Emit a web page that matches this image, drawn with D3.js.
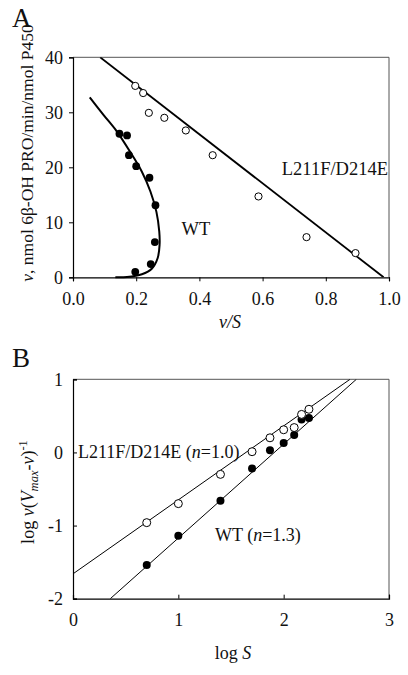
<!DOCTYPE html>
<html><head><meta charset="utf-8">
<script src="https://cdn.jsdelivr.net/npm/d3@7"></script>
<style>
html,body{margin:0;padding:0;background:#fff;}
text{font-family:"Liberation Serif","Times New Roman",serif;fill:#111;}
</style></head>
<body>
<script>
// ---- Panel A data (Eadie-Hofstee) ----
const mutA_x = [0.197,0.222,0.240,0.289,0.357,0.442,0.587,0.739,0.894];
const mutA_y = [34.8,33.5,29.9,29.0,26.7,22.2,14.7,7.3,4.4];
const wtA_x  = [0.147,0.171,0.177,0.200,0.242,0.261,0.259,0.246,0.197];
const wtA_y  = [26.1,25.8,22.2,20.2,18.1,13.1,6.4,2.4,1.0];
const mutA_fit_x = [0.086,0.983];
const mutA_fit_y = [40,0];
const wtA_fit_x = [0.053,0.097,0.139,0.181,0.218,0.245,0.264,0.273,0.274,0.268,0.250,0.218,0.171,0.134];
const wtA_fit_y = [32.7,29.5,26.5,22.8,19.2,15.6,11.9,8.3,5.9,3.5,1.6,0.55,0.05,0];
const ticksA_x = [0,0.2,0.4,0.6,0.8,1.0];
const ticksA_y = [0,10,20,30,40];

// ---- Panel B data (Hill plot) ----
const logS = [0.70,1.00,1.40,1.70,1.87,2.00,2.10,2.17,2.24];
const mutB_y = [-0.96,-0.70,-0.30,0.01,0.20,0.31,0.34,0.52,0.59];
const wtB_y  = [-1.54,-1.14,-0.66,-0.22,0.03,0.13,0.24,0.45,0.47];
const mutB_fit_x = [0,2.63];
const mutB_fit_y = [-1.66,1];
const wtB_fit_x = [0.354,2.69];
const wtB_fit_y = [-2,1];
const ticksB_x = [0,1,2,3];
const ticksB_y = [-2,-1,0,1];

const W=408,H=675;
const svg=d3.select("body").append("svg").attr("width",W).attr("height",H);
const FS=18, LS=17.5, AS=18.5;

// ===== Panel A =====
const xA=d3.scaleLinear().domain([0,1]).range([73,389]);
const yA=d3.scaleLinear().domain([0,40]).range([277.3,57.3]);
const gA=svg.append("g");
gA.append("defs").append("clipPath").attr("id","clipA").append("rect")
  .attr("x",xA(0)).attr("y",yA(40)).attr("width",xA(1)-xA(0)).attr("height",yA(0)-yA(40));
gA.append("path").attr("d",`M${xA(0)},${yA(40)}H${xA(1)}V${yA(0)}`).attr("fill","none").attr("stroke","#555").attr("stroke-width",1);
const axAx=gA.append("g").attr("transform",`translate(0,${yA(0)})`)
  .call(d3.axisBottom(xA).tickValues(ticksA_x).tickFormat(d3.format(".1f")).tickSize(4).tickPadding(11));
const axAy=gA.append("g").attr("transform",`translate(${xA(0)},0)`)
  .call(d3.axisLeft(yA).tickValues(ticksA_y).tickSize(4).tickPadding(6));
[axAx,axAy].forEach(a=>{a.select(".domain").attr("stroke","#000").attr("stroke-width",1.2);
  a.selectAll(".tick line").attr("stroke","#000");
  a.selectAll("text").attr("font-size",FS).attr("font-family","Liberation Serif").attr("fill","#111");});
axAy.selectAll(".tick text").attr("dy","0.34em");

const lineA=d3.line().x(d=>xA(d[0])).y(d=>yA(d[1]));
gA.append("path").datum(mutA_fit_x.map((x,i)=>[x,mutA_fit_y[i]]))
  .attr("d",lineA).attr("fill","none").attr("stroke","#000").attr("stroke-width",1.8).attr("clip-path","url(#clipA)");
gA.append("path").datum(wtA_fit_x.map((x,i)=>[x,wtA_fit_y[i]]))
  .attr("d",lineA.curve(d3.curveCatmullRom)).attr("fill","none").attr("stroke","#000").attr("stroke-width",2);
gA.selectAll(".mA").data(mutA_x.map((x,i)=>[x,mutA_y[i]])).enter().append("circle")
  .attr("cx",d=>xA(d[0])).attr("cy",d=>yA(d[1])).attr("r",3.6).attr("fill","#fff").attr("stroke","#000").attr("stroke-width",1);
gA.selectAll(".wA").data(wtA_x.map((x,i)=>[x,wtA_y[i]])).enter().append("circle")
  .attr("cx",d=>xA(d[0])).attr("cy",d=>yA(d[1])).attr("r",3.9).attr("fill","#000");

gA.append("text").attr("x",12).attr("y",27).attr("font-size",27).text("A");
gA.append("text").attr("x",196).attr("y",235).attr("text-anchor","middle").attr("font-size",AS).text("WT");
gA.append("text").attr("x",388).attr("y",175).attr("text-anchor","end").attr("font-size",AS).text("L211F/D214E");
gA.append("text").attr("x",230).attr("y",328).attr("text-anchor","middle").attr("font-size",LS+0.5).attr("font-style","italic").text("v/S");
const ylA=gA.append("text").attr("transform",`translate(33,153) rotate(-90)`).attr("text-anchor","middle").attr("font-size",LS);
ylA.append("tspan").attr("font-style","italic").text("v");
ylA.append("tspan").text(", nmol 6β-OH PRO/min/nmol P450");

// ===== Panel B =====
const xB=d3.scaleLinear().domain([0,3]).range([73,389]);
const yB=d3.scaleLinear().domain([-2,1]).range([598.7,379.3]);
const gB=svg.append("g");
gB.append("defs").append("clipPath").attr("id","clipB").append("rect")
  .attr("x",xB(0)).attr("y",yB(1)).attr("width",xB(3)-xB(0)).attr("height",yB(-2)-yB(1));
gB.append("path").attr("d",`M${xB(0)},${yB(1)}H${xB(3)}V${yB(-2)}`).attr("fill","none").attr("stroke","#555").attr("stroke-width",1);
const axBx=gB.append("g").attr("transform",`translate(0,${yB(-2)})`)
  .call(d3.axisBottom(xB).tickValues(ticksB_x).tickFormat(d3.format("d")).tickSize(-4).tickPadding(15));
const axBy=gB.append("g").attr("transform",`translate(${xB(0)},0)`)
  .call(d3.axisLeft(yB).tickValues(ticksB_y).tickFormat(d=>d<0?"-"+Math.abs(d):d).tickSize(-4).tickPadding(10));
[axBx,axBy].forEach(a=>{a.select(".domain").attr("stroke","#000").attr("stroke-width",1.2);
  a.selectAll(".tick line").attr("stroke","#000");
  a.selectAll("text").attr("font-size",FS).attr("font-family","Liberation Serif").attr("fill","#111");});
axBy.selectAll(".tick text").attr("dy","0.34em");

const lineB=d3.line().x(d=>xB(d[0])).y(d=>yB(d[1]));
gB.append("path").datum(mutB_fit_x.map((x,i)=>[x,mutB_fit_y[i]]))
  .attr("d",lineB).attr("fill","none").attr("stroke","#000").attr("stroke-width",1).attr("clip-path","url(#clipB)");
gB.append("path").datum(wtB_fit_x.map((x,i)=>[x,wtB_fit_y[i]]))
  .attr("d",lineB).attr("fill","none").attr("stroke","#000").attr("stroke-width",1).attr("clip-path","url(#clipB)");
gB.selectAll(".wB").data(logS.map((x,i)=>[x,wtB_y[i]])).enter().append("circle")
  .attr("cx",d=>xB(d[0])).attr("cy",d=>yB(d[1])).attr("r",4).attr("fill","#000");
gB.selectAll(".mB").data(logS.map((x,i)=>[x,mutB_y[i]])).enter().append("circle")
  .attr("cx",d=>xB(d[0])).attr("cy",d=>yB(d[1])).attr("r",4).attr("fill","#fff").attr("stroke","#000").attr("stroke-width",1);

gB.append("text").attr("x",12).attr("y",367).attr("font-size",27).text("B");
const t1=gB.append("text").attr("x",78).attr("y",458).attr("font-size",18);
t1.append("tspan").text("L211F/D214E (");
t1.append("tspan").attr("font-style","italic").text("n");
t1.append("tspan").text("=1.0)");
const t2=gB.append("text").attr("x",215).attr("y",541).attr("font-size",18);
t2.append("tspan").text("WT (");
t2.append("tspan").attr("font-style","italic").text("n");
t2.append("tspan").text("=1.3)");
const xlB=gB.append("text").attr("x",233).attr("y",659).attr("text-anchor","middle").attr("font-size",LS+0.5);
xlB.append("tspan").text("log ");
xlB.append("tspan").attr("font-style","italic").text("S");
const ylB=gB.append("text").attr("transform",`translate(34,492) rotate(-90)`).attr("text-anchor","middle").attr("font-size",LS+0.5);
ylB.append("tspan").text("log ");
ylB.append("tspan").attr("font-style","italic").text("v");
ylB.append("tspan").text("(");
ylB.append("tspan").attr("font-style","italic").text("V");
ylB.append("tspan").attr("font-style","italic").attr("font-size",12.5).attr("dy",4).text("max");
ylB.append("tspan").attr("dy",-4).text("-");
ylB.append("tspan").attr("font-style","italic").text("v");
ylB.append("tspan").text(")");
ylB.append("tspan").attr("font-size",12.5).attr("dy",-7).text("-1");
</script>
</body></html>
